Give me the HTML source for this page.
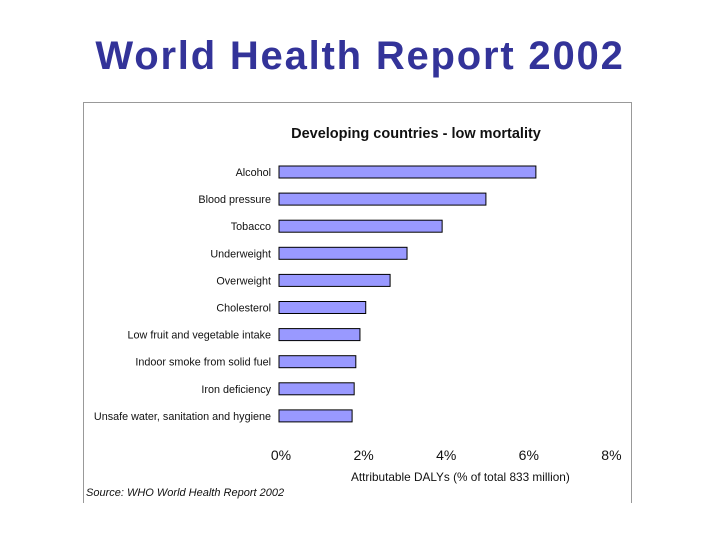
<!DOCTYPE html>
<html><head><meta charset="utf-8"><style>
body{margin:0;width:720px;height:540px;background:#fff;overflow:hidden;font-family:"Liberation Sans",sans-serif;}
#title{position:absolute;left:0;width:720px;top:34px;text-align:center;font-size:40px;font-weight:bold;color:#333399;letter-spacing:1.8px;}
svg{position:absolute;left:0;top:0;}
</style></head><body>
<div id="title">World Health Report 2002</div>
<svg id="chart" width="720" height="540"></svg>
<script>
const categories=["Alcohol","Blood pressure","Tobacco","Underweight","Overweight","Cholesterol","Low  fruit and vegetable intake","Indoor smoke from solid fuel","Iron deficiency","Unsafe water, sanitation and hygiene"];
const values=[6.22,5.01,3.95,3.1,2.69,2.1,1.96,1.86,1.82,1.77];
const tickValues=[0,2,4,6,8];
const tickLabels=["0%","2%","4%","6%","8%"];
const svg=document.getElementById('chart');
const NS='http://www.w3.org/2000/svg';
const x0=279,pxPer=41.3;
function xs(v){return x0+v*pxPer;}
function ys(i){return 172+i*27.1;}
function mk(t,a,txt){const e=document.createElementNS(NS,t);for(const k in a)e.setAttribute(k,a[k]);if(txt!==undefined)e.textContent=txt;svg.appendChild(e);return e;}
let e=mk('path',{d:'M83.5,503 V102.5 H631.5 V503',fill:'none',stroke:'#999','stroke-width':1});


e=mk('text',{x:416,y:138,'text-anchor':'middle','font-size':14.5,'font-weight':'bold',fill:'#111'},'Developing countries - low mortality');


categories.forEach((c,i)=>{
  const y=ys(i);
  let b=mk('rect',{x:x0,y:y-6,width:xs(values[i])-x0,height:12,fill:'#9999ff',stroke:'#000','stroke-width':1});
  
  
  let t=mk('text',{x:271,y:y+4,'text-anchor':'end','font-size':10.8,fill:'#111'},c);
  
  
});
tickValues.forEach((v,i)=>{
  let t=mk('text',{x:xs(v)+2,y:460,'text-anchor':'middle','font-size':14,fill:'#111'},tickLabels[i]);
  
  
});
e=mk('text',{x:351,y:481,'font-size':11.8,fill:'#111'},'Attributable DALYs (% of total 833 million)');


e=mk('text',{x:86,y:496,'font-size':11,'font-style':'italic',fill:'#111'},'Source: WHO World Health Report 2002');


</script>
</body></html>
